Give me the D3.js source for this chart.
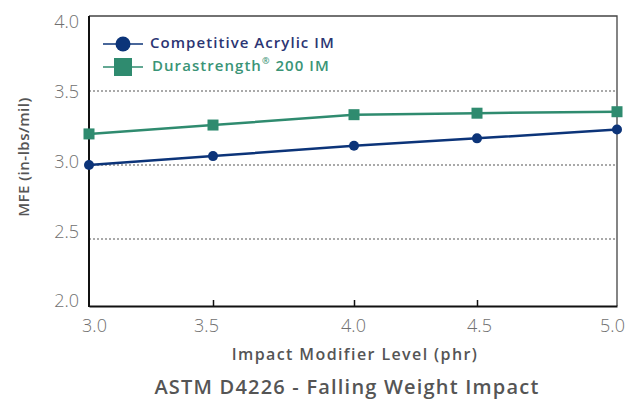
<!DOCTYPE html>
<html>
<head>
<meta charset="utf-8">
<script src="https://cdn.jsdelivr.net/npm/d3@7"></script>
<style>
  html, body { margin: 0; padding: 0; background: #fff; }
  svg { display: block; }
</style>
</head>
<body>
<svg id="chart" width="628" height="399"></svg>
<script>
// ---- data ----
const levels = [3.0, 3.5, 4.0, 4.5, 5.0];
const competitive = [3.00, 3.06, 3.13, 3.18, 3.24];
const durastrength = [3.21, 3.27, 3.34, 3.35, 3.36];
const yTicks = [2.0, 2.5, 3.0, 3.5, 4.0];
const gridValues = [2.5, 3.0, 3.5];
const seriesNames = ["Competitive Acrylic IM", "Durastrength", "\u00AE", " 200 IM"];
const xTitle = "Impact Modifier Level (phr)";
const yTitle = "MFE (in-lbs/mil)";
const chartTitle = "ASTM D4226 - Falling Weight Impact";

// ---- layout ----
const svg = d3.select("#chart");
const plot = { left: 89, right: 617, top: 16, bottom: 306 };
const blue = "#0c3479", green = "#2f8b6f";
const blueText = "#2b3573", greenText = "#3a9476";
const font = "'Open Sans', sans-serif";

const x = d3.scaleLinear().domain(levels).range([89, 213, 354, 477, 617]);
const y = d3.scaleLinear().domain([2, 4]).range([313, 17]);
const yLab = d3.scaleLinear().domain([2, 4]).range([302, 23]);

// gridlines
svg.append("g").selectAll("line").data(gridValues).join("line")
  .attr("x1", plot.left).attr("x2", plot.right)
  .attr("y1", d => y(d)).attr("y2", d => y(d))
  .attr("stroke", "#555").attr("stroke-width", 1.2)
  .attr("stroke-dasharray", "2,2");

// frame: top & right
svg.append("path")
  .attr("d", `M${plot.left},${plot.top}H${plot.right}V${plot.bottom}`)
  .attr("fill", "none").attr("stroke", "#444").attr("stroke-width", 1.3);

// x axis (bottom) with inward ticks
const xAxis = d3.axisBottom(x).tickValues(levels.slice(1, -1)).tickSize(-6).tickFormat("").tickSizeOuter(0);
const gx = svg.append("g").attr("transform", `translate(0,${plot.bottom})`).call(xAxis);
gx.select(".domain").attr("stroke", "#111").attr("stroke-width", 2);
gx.selectAll(".tick line").attr("stroke", "#111").attr("stroke-width", 1.5);

// left line
svg.append("line").attr("x1", plot.left).attr("x2", plot.left)
  .attr("y1", plot.top).attr("y2", plot.bottom + 1)
  .attr("stroke", "#111").attr("stroke-width", 2);

// x labels
const xLabelPos = d3.scaleLinear().domain(levels).range([94, 206, 353, 479, 612]);
const gxl = svg.append("g").attr("transform", `translate(0,327)`)
  .call(d3.axisBottom(xLabelPos).tickValues(levels).tickSize(0).tickFormat(d3.format(".1f")));
gxl.select(".domain").remove();
gxl.selectAll("text").attr("dy", 0).attr("y", 0)
  .attr("dominant-baseline", "middle")
  .style("font-family", font).style("font-weight", 300)
  .style("font-size", "18px").attr("fill", "#707070");

// y labels
const gyl = svg.append("g").attr("transform", `translate(79,0)`)
  .call(d3.axisLeft(yLab).tickValues(yTicks).tickSize(0).tickFormat(d3.format(".1f")));
gyl.select(".domain").remove();
gyl.selectAll("text").attr("dy", 0).attr("x", 0)
  .attr("dominant-baseline", "middle")
  .style("font-family", font).style("font-weight", 300)
  .style("font-size", "18px").attr("fill", "#707070");

// lines
const line = d3.line().x((d, i) => x(levels[i])).y(d => y(d));
svg.append("path").datum(competitive).attr("d", line)
  .attr("fill", "none").attr("stroke", blue).attr("stroke-width", 2.5);
svg.append("path").datum(durastrength).attr("d", line)
  .attr("fill", "none").attr("stroke", green).attr("stroke-width", 2.5);

// markers
svg.append("g").selectAll("circle").data(competitive).join("circle")
  .attr("cx", (d, i) => x(levels[i])).attr("cy", d => y(d)).attr("r", 5)
  .attr("fill", blue);
svg.append("g").selectAll("rect").data(durastrength).join("rect")
  .attr("x", (d, i) => x(levels[i]) - 5.5).attr("y", d => y(d) - 5.5)
  .attr("width", 11).attr("height", 11).attr("fill", green);

// legend
const leg = svg.append("g");
leg.append("line").attr("x1", 103).attr("x2", 143).attr("y1", 44).attr("y2", 44)
  .attr("stroke", blue).attr("stroke-width", 1.5);
leg.append("circle").attr("cx", 123).attr("cy", 44).attr("r", 7.5).attr("fill", blue);
leg.append("text").attr("x", 150).attr("y", 44).attr("dominant-baseline", "middle")
  .style("font-family", font).style("font-weight", 600)
  .style("font-size", "15px").style("letter-spacing", "1.05px")
  .attr("fill", blueText).text(seriesNames[0]);
leg.append("line").attr("x1", 103).attr("x2", 143).attr("y1", 67).attr("y2", 67)
  .attr("stroke", green).attr("stroke-width", 1.5);
leg.append("rect").attr("x", 114).attr("y", 58).attr("width", 18).attr("height", 18).attr("fill", green);
const gt = leg.append("text").attr("x", 152).attr("y", 67).attr("dominant-baseline", "middle")
  .style("font-family", font).style("font-weight", 600)
  .style("font-size", "15px").style("letter-spacing", "1.05px")
  .attr("fill", greenText);
gt.append("tspan").text(seriesNames[1]);
gt.append("tspan").attr("dy", -5).style("font-size", "9px").text(seriesNames[2]);
gt.append("tspan").attr("dy", 5).text(seriesNames[3]);

// axis titles
svg.append("text").attr("x", 355).attr("y", 356).attr("text-anchor", "middle")
  .attr("dominant-baseline", "middle")
  .style("font-family", font).style("font-weight", 600)
  .style("font-size", "16px").style("letter-spacing", "1.4px")
  .attr("fill", "#555").text(xTitle);
svg.append("text").attr("transform", "translate(25,157) rotate(-90)")
  .attr("text-anchor", "middle").attr("dominant-baseline", "middle")
  .style("font-family", font).style("font-weight", 600)
  .style("font-size", "15px").style("letter-spacing", "0.5px")
  .attr("fill", "#555").text(yTitle);
svg.append("text").attr("x", 347).attr("y", 389).attr("text-anchor", "middle")
  .attr("dominant-baseline", "middle")
  .style("font-family", font).style("font-weight", 600)
  .style("font-size", "20px").style("letter-spacing", "1.2px")
  .attr("fill", "#555").text(chartTitle);
</script>
</body>
</html>
